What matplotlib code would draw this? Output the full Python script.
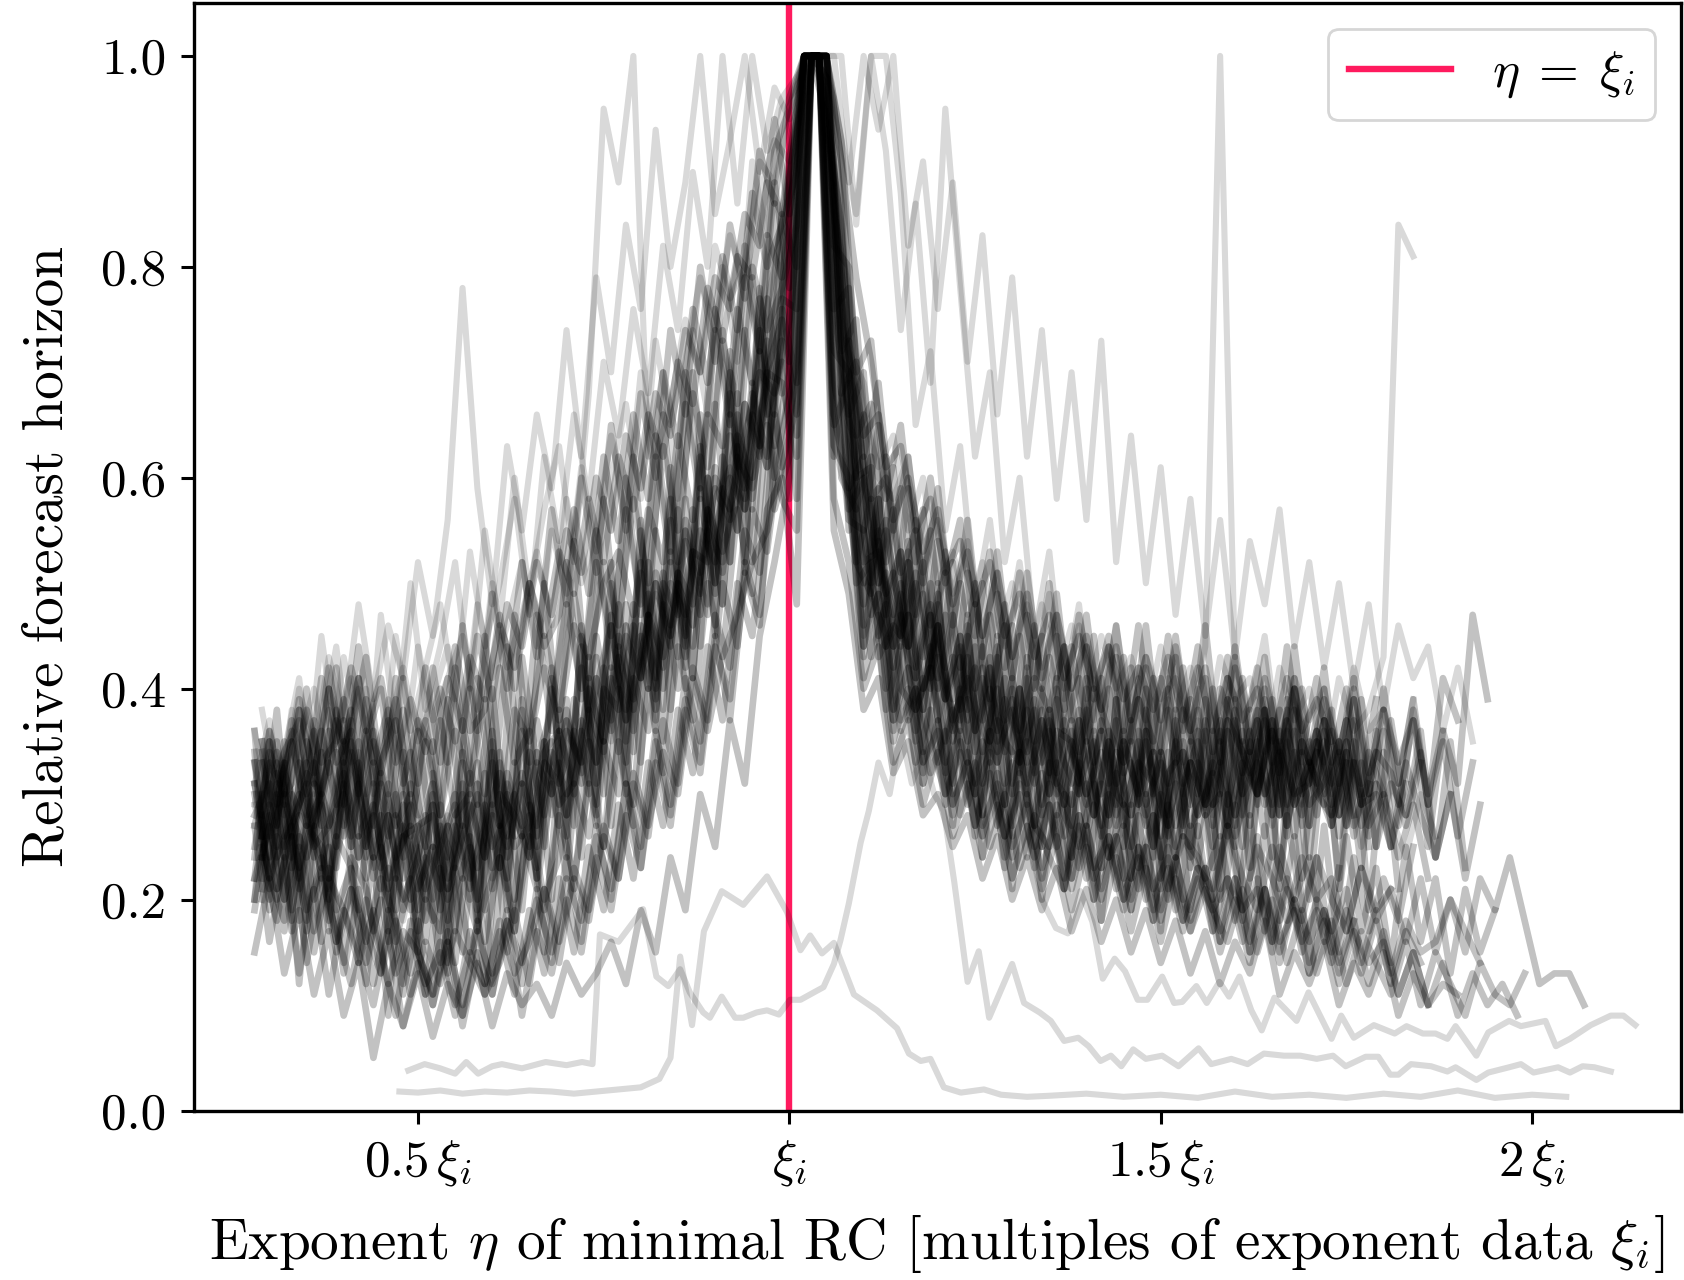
import numpy as np
import matplotlib
matplotlib.use("Agg")
import matplotlib.pyplot as plt

# relative forecast horizon in % of its maximum, one list per system,
# sampled over the exponent eta (multiples of the data exponent xi_i)
step = 0.02

a1 = [33, 21, 35, 22, 31, 20, 37, 26, 33, 19, 29, 17,
      29, 18, 31, 20, 34, 22, 36, 25, 40, 28, 44, 31,
      47, 35, 52, 39, 56, 44, 62, 50, 68, 57, 74, 66,
      84, 100, 100, 72, 70, 50, 58, 42, 52, 38, 49, 35,
      45, 31, 43, 30, 41, 28, 39, 27, 38, 26, 37, 25,
      36, 24, 35, 25, 37, 26, 38, 27, 39, 28, 38, 27,
      36, 26, 33]
a2 = [22, 31, 24, 35, 29, 23, 34, 27, 21, 30, 20, 28,
      19, 27, 21, 32, 23, 30, 24, 35, 27, 39, 31, 42,
      34, 48, 40, 51, 43, 57, 48, 62, 55, 69, 61, 77,
      76, 100, 96, 83, 60, 61, 47, 53, 41, 50, 39, 45,
      34, 43, 31, 40, 33, 38, 29, 37, 28, 36, 27, 35,
      25, 34, 27, 33, 25, 36, 28, 35, 29, 37, 27, 36,
      28, 34, 29, 30, 25]
a3 = [25, 34, 30, 21, 28, 36, 27, 33, 24, 31, 22, 27,
      28, 21, 30, 19, 33, 24, 31, 22, 35, 28, 42, 33,
      46, 37, 51, 40, 53, 45, 59, 49, 66, 58, 72, 63,
      70, 100, 100, 81, 59, 62, 49, 44, 53, 40, 46, 36,
      43, 34, 40, 31, 38, 29, 36, 35, 27, 37, 30, 28,
      36, 26, 33, 27, 30, 37, 28, 34, 26, 38, 29, 33]
a4 = [30, 24, 27, 31, 22, 34, 25, 36, 30, 22, 29, 18,
      26, 30, 20, 29, 23, 33, 25, 35, 29, 31, 40, 35,
      44, 36, 47, 43, 50, 46, 55, 52, 63, 58, 70, 69,
      62, 100, 100, 75, 68, 53, 56, 45, 50, 41, 47, 38,
      42, 35, 41, 32, 39, 30, 37, 31, 35, 28, 36, 29,
      34, 27, 35, 26, 33, 29, 36, 30, 37, 27, 35, 31,
      36, 27, 33, 25, 31, 28, 34, 24, 30, 22, 29]
a5 = [20, 29, 24, 33, 26, 22, 30, 35, 24, 28, 19, 26,
      31, 22, 28, 33, 21, 31, 26, 37, 30, 36, 33, 45,
      37, 48, 41, 50, 45, 54, 49, 61, 52, 67, 63, 75,
      88, 100, 100, 66, 59, 48, 54, 44, 47, 40, 46, 37,
      41, 36, 33, 39, 31, 37, 30, 35, 29, 36, 28, 33,
      27, 34, 25, 35, 28, 33, 27, 38, 30, 36, 26, 35,
      29, 34, 27, 31]
a6 = [28, 35, 26, 32, 30, 37, 33, 24, 32, 27, 30, 25,
      21, 28, 30, 24, 33, 25, 27, 34, 36, 30, 41, 35,
      45, 39, 49, 42, 51, 48, 57, 51, 62, 59, 66, 71,
      58, 100, 94, 84, 62, 57, 50, 45, 51, 43, 39, 45,
      36, 42, 34, 40, 32, 37, 33, 30, 36, 28, 35, 30,
      25, 32, 34, 28, 36, 27, 33, 30, 37, 29, 35, 31,
      27, 33]
a7 = [33, 26, 30, 23, 28, 33, 26, 31, 22, 28, 20, 24,
      29, 21, 26, 30, 23, 32, 27, 33, 30, 37, 32, 41,
      36, 45, 41, 51, 46, 56, 51, 59, 56, 67, 62, 79,
      91, 100, 100, 69, 62, 52, 53, 46, 44, 49, 37, 43,
      35, 42, 33, 40, 29, 38, 28, 36, 30, 34, 27, 37,
      29, 33, 24, 33, 28, 30, 25, 36, 29, 35, 30, 31,
      37, 28, 33, 27, 30, 24, 29, 22]
a8 = [24, 30, 35, 28, 23, 31, 36, 25, 31, 24, 27, 21,
      25, 29, 22, 27, 32, 26, 34, 28, 36, 31, 38, 34,
      43, 38, 47, 40, 50, 44, 57, 53, 58, 66, 61, 76,
      69, 100, 100, 73, 67, 55, 49, 53, 42, 48, 40, 36,
      44, 33, 39, 35, 31, 36, 29, 38, 31, 27, 35, 30,
      34, 26, 31, 35, 27, 37, 30, 33, 28, 36, 30, 34]
a9 = [31, 22, 26, 30, 25, 27, 32, 26, 29, 21, 26, 27,
      18, 27, 22, 31, 25, 28, 32, 26, 33, 38, 31, 40,
      46, 37, 43, 50, 44, 55, 47, 60, 57, 64, 70, 68,
      79, 100, 100, 80, 57, 60, 45, 51, 43, 38, 46, 37,
      33, 41, 34, 38, 30, 37, 31, 29, 35, 27, 34, 28,
      35, 29, 24, 33, 29, 35, 26, 31, 37, 28, 34, 29,
      31, 35, 26, 34, 30]
a10 = [26, 33, 28, 24, 30, 26, 35, 29, 23, 28, 25, 20,
       27, 23, 29, 24, 30, 28, 24, 33, 31, 36, 30, 40,
       38, 46, 40, 50, 47, 53, 52, 58, 64, 60, 70, 75,
       66, 100, 98, 77, 66, 49, 55, 47, 41, 47, 39, 43,
       36, 40, 35, 33, 38, 30, 36, 32, 28, 35, 29, 33,
       31, 27, 34, 28, 32, 26, 35, 30, 36, 27, 34, 30,
       28, 35, 27, 31, 25, 33, 28, 24, 30]

u1 = [24, 36, 29, 39, 31, 42, 33, 44, 35, 30, 41, 31,
      42, 33, 46, 36, 49, 40, 52, 43, 57, 48, 60, 51,
      65, 55, 68, 60, 74, 66, 80, 71, 84, 77, 91, 86,
      96, 100, 100, 82, 80, 62, 69, 55, 62, 50, 59, 46,
      56, 43, 53, 41, 51, 40, 49, 37, 47, 36, 46, 35,
      46, 34, 45, 35, 46, 33, 44, 34, 43, 32, 44, 33,
      42, 31, 41, 30, 40, 31, 39, 29, 41, 37]
u2 = [34, 27, 37, 30, 41, 33, 36, 43, 32, 39, 30, 42,
      33, 44, 36, 38, 47, 40, 50, 44, 47, 57, 49, 62,
      54, 66, 58, 70, 63, 76, 69, 81, 74, 87, 80, 84,
      89, 100, 100, 92, 70, 73, 58, 65, 52, 60, 50, 56,
      45, 53, 42, 51, 40, 50, 38, 47, 39, 45, 36, 46,
      35, 45, 36, 44, 34, 43, 35, 42, 33, 44, 34, 41,
      33, 40, 31, 39]
u3 = [27, 33, 30, 38, 32, 40, 35, 41, 33, 38, 31, 37,
      34, 41, 36, 45, 39, 48, 44, 52, 47, 55, 51, 60,
      55, 64, 59, 68, 64, 74, 70, 79, 76, 85, 82, 94,
      85, 100, 100, 86, 73, 64, 66, 56, 60, 53, 57, 48,
      53, 45, 51, 43, 49, 41, 47, 40, 45, 38, 44, 37,
      43, 37, 44, 36, 42, 35, 43, 34, 41, 35, 40, 33,
      39, 34, 40, 32, 38, 33, 37, 30, 36, 31, 47, 39]
u4 = [35, 29, 31, 38, 33, 35, 42, 36, 41, 33, 39, 34,
      40, 35, 43, 39, 46, 42, 50, 45, 53, 49, 58, 52,
      62, 57, 66, 62, 71, 67, 78, 73, 81, 79, 88, 85,
      93, 100, 100, 90, 79, 71, 61, 63, 55, 58, 51, 54,
      48, 52, 45, 49, 43, 47, 41, 45, 40, 44, 39, 42,
      38, 43, 37, 42, 36, 41, 37, 40, 35, 41, 36, 39,
      35]
u5 = [31, 37, 28, 35, 40, 32, 43, 36, 30, 39, 33, 44,
      37, 41, 45, 38, 50, 42, 47, 53, 46, 58, 50, 55,
      64, 56, 70, 62, 67, 75, 70, 82, 77, 80, 90, 88,
      94, 100, 100, 96, 72, 69, 60, 58, 62, 51, 56, 49,
      54, 45, 51, 43, 48, 42, 47, 40, 44, 38, 46, 37,
      43, 39, 41, 36, 44, 100, 42, 38, 45, 34, 41, 37,
      40, 33, 42, 36, 38, 31, 39]
u6 = [36, 29, 34, 41, 30, 38, 34, 40, 31, 36, 42, 35,
      39, 44, 36, 48, 41, 46, 52, 44, 55, 49, 61, 53,
      60, 67, 58, 73, 65, 71, 79, 74, 83, 78, 87, 92,
      90, 100, 100, 85, 78, 66, 61, 64, 55, 60, 50, 53,
      47, 52, 45, 50, 42, 48, 41, 46, 39, 45, 40, 43,
      37, 44, 38, 42, 35, 43, 39, 41, 34, 42, 37, 40,
      33, 41, 36, 38, 43, 84, 81]

l1 = [19, 28, 17, 25, 15, 23, 13, 21, 12, 19, 11, 18,
      10, 17, 9, 18, 11, 19, 12, 21, 14, 24, 16, 27,
      20, 31, 23, 35, 28, 39, 33, 45, 37, 51, 46, 66,
      58, 100, 100, 63, 60, 41, 47, 35, 40, 31, 37, 28,
      34, 26, 32, 24, 30, 22, 29, 21, 27, 20, 26, 19,
      25, 18, 24, 17, 23, 16, 22, 15, 21, 14, 20, 13,
      19, 13, 18, 12, 17, 11, 15, 10, 14, 9, 13, 10,
      12, 9]
l2 = [28, 21, 26, 18, 24, 16, 21, 14, 20, 13, 17, 11,
      16, 10, 15, 12, 17, 11, 19, 13, 22, 15, 25, 19,
      29, 22, 33, 27, 38, 32, 44, 37, 50, 45, 57, 60,
      48, 100, 100, 78, 50, 52, 38, 44, 33, 38, 29, 35,
      27, 33, 24, 31, 23, 29, 21, 28, 22, 26, 20, 25,
      19, 25, 18, 23, 19, 22, 16, 22, 15, 21, 16, 19,
      14, 19, 13, 18, 12, 17, 14]
l3 = [22, 27, 20, 26, 17, 22, 19, 14, 19, 12, 17, 15,
      11, 16, 10, 17, 12, 18, 14, 20, 15, 22, 18, 26,
      21, 31, 25, 36, 29, 41, 35, 47, 42, 55, 51, 68,
      75, 100, 100, 66, 58, 44, 49, 37, 42, 33, 36, 29,
      33, 27, 31, 25, 29, 23, 28, 22, 27, 21, 26, 20,
      25, 19, 24, 18, 23, 17, 22, 16, 21, 15, 20, 16,
      19, 14, 18]
l4 = [25, 20, 27, 19, 23, 15, 21, 17, 13, 18, 11, 16,
      12, 17, 14, 11, 18, 13, 16, 21, 14, 23, 19, 26,
      22, 32, 27, 34, 30, 41, 36, 43, 47, 52, 55, 61,
      67, 100, 97, 74, 52, 49, 45, 36, 40, 35, 30, 34,
      27, 32, 26, 30, 24, 29, 22, 28, 23, 26, 20, 25,
      21, 24, 18, 23, 17, 22, 19, 21, 16, 22, 15, 20,
      17, 21, 14, 19, 13, 18, 15, 16, 20, 15, 22, 19,
      24, 18, 12, 13, 13, 10]
l5 = [15, 22, 13, 19, 11, 17, 9, 14, 5, 12, 8, 13,
      7, 12, 9, 14, 8, 13, 10, 12, 9, 14, 11, 13,
      16, 12, 19, 15, 24, 19, 30, 25, 37, 31, 45, 52,
      60, 100, 100, 55, 49, 38, 41, 32, 35, 28, 30, 25,
      28, 22, 26, 20, 24, 19, 23, 17, 21, 16, 20, 15,
      19, 14, 18, 13, 17, 12, 16, 13, 18, 11, 15, 12,
      16, 10, 14, 11, 15, 9, 13, 10, 12, 11]

m1 = [34, 19, 29, 12, 27, 17, 31, 14, 24, 9, 26, 15,
      11, 27, 15, 29, 13, 30, 19, 34, 20, 39, 24, 43,
      27, 46, 33, 55, 38, 58, 44, 67, 52, 74, 63, 86,
      71, 100, 100, 65, 69, 44, 55, 36, 47, 31, 43, 27,
      39, 24, 37, 21, 35, 20, 33, 22, 31, 18, 32, 19,
      30, 17, 31, 19, 28, 16, 29, 15, 27, 18, 26, 14,
      27, 15, 24, 17, 22, 18, 25]
m2 = [21, 30, 18, 33, 16, 26, 23, 12, 25, 16, 22, 11,
      23, 14, 26, 12, 27, 17, 29, 15, 33, 21, 35, 25,
      40, 29, 47, 35, 51, 41, 60, 48, 66, 57, 77, 68,
      82, 100, 100, 80, 52, 58, 40, 49, 35, 44, 30, 40,
      26, 36, 23, 34, 25, 31, 21, 33, 20, 30, 22, 28,
      18, 29, 20, 27, 17, 30, 18, 26, 16, 28, 19, 24,
      15, 26, 17, 23, 14, 25, 16, 22, 13, 21, 15, 19]
m3 = [30, 22, 18, 28, 20, 25, 14, 26, 17, 23, 12, 21,
      25, 13, 22, 17, 28, 15, 26, 21, 31, 22, 36, 27,
      41, 30, 45, 38, 52, 43, 58, 50, 64, 59, 72, 80,
      88, 100, 100, 70, 56, 55, 43, 46, 37, 41, 33, 38,
      29, 35, 27, 33, 24, 32, 25, 30, 22, 31, 21, 29,
      20, 30, 19, 27, 22, 26, 18, 28, 17, 25, 20, 24,
      16, 23]
m4 = [24, 32, 19, 27, 25, 16, 24, 21, 13, 22, 19, 24,
      14, 21, 25, 16, 24, 18, 28, 20, 24, 31, 26, 35,
      30, 41, 36, 48, 40, 53, 47, 59, 55, 68, 62, 73,
      64, 100, 100, 68, 63, 47, 51, 40, 38, 42, 32, 36,
      30, 34, 26, 32, 27, 25, 30, 23, 29, 24, 27, 21,
      28, 20, 26, 23, 21, 27, 19, 25, 22, 18, 24, 20,
      22, 17, 23, 19, 21]
m5 = [20, 35, 26, 38, 24, 40, 29, 41, 27, 37, 24, 36,
      25, 39, 27, 41, 29, 44, 31, 47, 36, 52, 39, 55,
      42, 60, 47, 64, 53, 70, 59, 76, 66, 82, 72, 91,
      95, 100, 100, 76, 78, 55, 65, 47, 59, 43, 54, 39,
      51, 37, 49, 34, 47, 33, 45, 31, 44, 30, 43, 29,
      42, 28, 43, 29, 41, 30, 42, 28, 40, 29, 41, 27,
      40, 28, 39, 26, 38, 29, 37, 25, 36]
m6 = [33, 25, 36, 27, 30, 38, 26, 35, 40, 28, 34, 25,
      37, 28, 40, 30, 42, 33, 36, 45, 38, 49, 41, 52,
      46, 58, 50, 63, 55, 68, 61, 73, 67, 80, 74, 78,
      84, 100, 100, 90, 64, 67, 52, 59, 47, 55, 42, 50,
      40, 47, 37, 45, 35, 43, 36, 41, 33, 40, 32, 39,
      30, 40, 31, 38, 29, 41, 32, 37, 28, 39, 31, 36,
      29, 37, 30]
m7 = [31, 24, 34, 37, 27, 32, 39, 30, 36, 26, 38, 28,
      35, 24, 37, 29, 40, 26, 43, 33, 38, 48, 40, 52,
      45, 57, 48, 62, 52, 67, 58, 74, 65, 79, 72, 88,
      78, 100, 100, 88, 66, 70, 50, 61, 44, 57, 41, 52,
      38, 50, 36, 46, 34, 45, 32, 44, 35, 41, 31, 42,
      30, 41, 33, 39, 29, 40, 36, 32, 38, 28, 40, 31,
      37, 28, 39, 30, 36, 27, 38, 29, 35, 26, 33]
m8 = [26, 34, 30, 27, 36, 29, 38, 25, 33, 37, 27, 35,
      28, 36, 31, 39, 27, 38, 35, 42, 37, 46, 43, 50,
      53, 47, 57, 52, 64, 56, 66, 63, 76, 69, 83, 79,
      91, 100, 100, 72, 75, 58, 60, 51, 55, 46, 51, 42,
      48, 39, 46, 36, 41, 38, 44, 34, 40, 36, 33, 39,
      35, 31, 38, 33, 29, 37, 34, 30, 36, 32, 28, 35,
      31, 37, 29, 34, 32, 27, 33]
m9 = [22, 35, 20, 31, 36, 18, 33, 24, 35, 16, 30, 19,
      32, 16, 34, 18, 35, 21, 38, 23, 41, 26, 45, 29,
      50, 31, 55, 36, 58, 42, 63, 46, 70, 52, 77, 60,
      90, 100, 100, 62, 73, 46, 59, 38, 54, 32, 50, 31,
      47, 28, 45, 26, 43, 25, 41, 24, 40, 23, 39, 22,
      38, 22, 37, 24, 36, 21, 39, 23, 38, 22, 40, 24,
      37, 21, 35, 25]
m10 = [35, 21, 30, 17, 34, 25, 37, 22, 28, 19, 31, 16,
       29, 17, 32, 19, 34, 20, 36, 25, 38, 27, 43, 30,
       48, 34, 52, 38, 57, 41, 60, 48, 68, 52, 73, 61,
       70, 100, 100, 86, 57, 62, 44, 50, 36, 47, 33, 44,
       30, 42, 29, 40, 27, 38, 26, 37, 28, 35, 25, 36,
       24, 38, 26, 36, 23, 39, 25, 37, 24, 38, 22, 35,
       27, 34, 23, 36, 25, 31]

n1 = [27, 16, 24, 13, 21, 11, 19, 15, 10, 17, 8, 14,
      10, 16, 8, 15, 11, 18, 9, 17, 13, 20, 15, 24,
      19, 28, 23, 33, 27, 38, 32, 44, 39, 52, 47, 61,
      68, 100, 100, 58, 52, 40, 44, 33, 37, 29, 34, 26,
      31, 24, 29, 22, 27, 21, 26, 19, 25, 18, 24, 17,
      23, 16, 22, 17, 21, 15, 20, 14, 21, 16, 19, 13,
      18, 12, 17, 14, 16, 11, 15, 10]
n2 = [24, 18, 26, 14, 22, 17, 12, 20, 15, 9, 18, 12,
      15, 9, 17, 11, 14, 19, 12, 21, 16, 22, 18, 27,
      22, 31, 26, 37, 31, 42, 37, 50, 44, 57, 53, 64,
      71, 100, 98, 60, 57, 43, 48, 37, 40, 32, 36, 28,
      33, 25, 30, 23, 28, 24, 21, 27, 20, 25, 19, 24,
      18, 23, 17, 22, 19, 16, 21, 15, 20, 14, 19, 13,
      18, 12, 17, 14, 11, 16, 10, 15, 12, 9, 14, 11,
      10, 13]
n3 = [36, 20, 33, 18, 37, 22, 35, 19, 31, 17, 34, 15,
      30, 14, 33, 17, 36, 19, 39, 22, 42, 24, 46, 28,
      52, 33, 56, 37, 61, 40, 66, 45, 72, 51, 78, 57,
      62, 100, 100, 76, 66, 43, 58, 37, 52, 34, 48, 30,
      46, 28, 44, 27, 42, 25, 40, 24, 41, 23, 39, 22,
      40, 21, 38, 23, 39, 20, 37, 22, 38, 21, 36, 20,
      35, 22, 37, 19, 34, 21]
n4 = [26, 38, 23, 40, 27, 42, 25, 39, 24, 41, 26, 37,
      28, 42, 30, 45, 27, 47, 33, 50, 36, 54, 38, 58,
      44, 62, 47, 66, 52, 70, 56, 74, 61, 79, 66, 85,
      80, 100, 100, 68, 71, 50, 62, 44, 56, 40, 53, 37,
      50, 35, 48, 33, 46, 32, 44, 30, 45, 31, 43, 29,
      41, 28, 42, 30, 40, 27, 41, 29, 39, 26, 40, 28,
      38, 27, 39, 25, 37, 28, 36, 24, 35, 23]
n5 = [28, 31, 25, 29, 33, 27, 30, 24, 28, 22, 27, 21,
      25, 20, 27, 23, 29, 25, 31, 27, 34, 30, 37, 33,
      42, 38, 46, 41, 50, 47, 55, 52, 60, 57, 66, 71,
      85, 100, 100, 88, 55, 66, 50, 57, 44, 52, 40, 47,
      37, 44, 35, 41, 33, 40, 31, 37, 30, 36, 29, 35,
      28, 34, 27, 33, 29, 36, 28, 35, 30, 34, 29, 33,
      30, 35, 28]
n6 = [20, 26, 17, 24, 29, 19, 23, 16, 22, 18, 13, 20,
      17, 23, 15, 20, 24, 17, 26, 19, 28, 22, 31, 25,
      35, 27, 40, 32, 44, 37, 50, 43, 57, 49, 65, 58,
      55, 100, 100, 72, 60, 50, 44, 47, 38, 42, 35, 39,
      31, 36, 29, 34, 27, 33, 28, 25, 31, 24, 29, 23,
      28, 21, 26, 24, 20, 27, 22, 19, 25, 21, 18, 24,
      20, 17, 23, 18, 21, 16, 22, 15, 20, 17, 14]

# sparse systems that reach the maximum several times
h1 = [33, 27, 38, 31, 45, 35, 41, 30, 47, 36, 50, 38,
      44, 52, 40, 55, 46, 60, 49, 57, 63, 52, 68, 95,
      88, 100, 62, 70, 58, 74, 66, 80, 71, 90, 83, 95,
      97, 100, 100, 100, 84, 100, 91, 74, 86, 69, 95, 78,
      62, 70, 52, 60, 45, 53, 40, 48, 36, 44, 33, 41,
      31, 39, 30, 37, 28, 36, 30, 38, 27, 35, 29, 34,
      27, 33, 25, 31, 28, 24, 30, 26]
h2 = [29, 36, 31, 40, 34, 43, 37, 48, 39, 46, 41, 52,
      45, 56, 78, 59, 48, 63, 55, 66, 59, 74, 62, 79,
      70, 84, 76, 93, 80, 88, 100, 85, 92, 100, 89, 97,
      94, 100, 100, 100, 88, 100, 93, 100, 82, 90, 76, 88,
      71, 83, 66, 79, 62, 74, 58, 70, 56, 73, 52, 64,
      50, 61, 47, 58, 45, 56, 43, 54, 48, 57, 44, 52,
      42, 50, 40, 48, 38, 46, 41, 44, 36, 42, 35]
h3 = [38, 30, 35, 28, 36, 44, 33, 40, 31, 45, 36, 42,
      48, 39, 53, 44, 50, 58, 47, 62, 54, 66, 58, 71,
      64, 76, 68, 82, 74, 89, 80, 100, 86, 100, 91, 96,
      98, 100, 100, 92, 85, 100, 100, 87, 65, 72, 55, 63,
      48, 56, 44, 52, 41, 49, 39, 46, 37, 44, 35, 42,
      34, 41, 33, 40, 32, 39, 34, 38, 31, 37, 33, 36,
      30, 35, 29, 34]

# three systems with irregular eta sampling
o1_eta = [0.475, 0.50, 0.53, 0.56, 0.59, 0.62, 0.65, 0.68, 0.71, 0.74,
          0.77, 0.80, 0.825, 0.840, 0.853, 0.869, 0.885, 0.909, 0.938, 0.970,
          0.997, 1.015, 1.028, 1.044, 1.060, 1.087, 1.118, 1.145, 1.161, 1.177,
          1.190, 1.208, 1.231, 1.262, 1.285, 1.32, 1.35, 1.40, 1.45, 1.50,
          1.55, 1.60, 1.65, 1.70, 1.75, 1.80, 1.85, 1.90, 1.95, 2.00,
          2.046]
o1 = [1.8, 1.7, 1.9, 1.6, 1.8, 1.7, 1.9, 1.8, 1.6, 1.8,
      2.0, 2.2, 3.0, 5.0, 14.6, 8.1, 17.0, 20.8, 19.5, 22.2,
      18.8, 15.2, 16.6, 14.9, 15.9, 11.0, 9.5, 7.8, 5.4, 4.7,
      4.9, 2.2, 1.7, 2.0, 1.5, 1.3, 1.4, 1.6, 1.3, 1.5,
      1.2, 1.8, 1.3, 1.5, 1.2, 1.6, 1.3, 1.9, 1.2, 1.5,
      1.3]

o2_eta = [0.487, 0.509, 0.53, 0.55, 0.565, 0.581, 0.60, 0.613, 0.64, 0.672,
          0.70, 0.721, 0.735, 0.745, 0.77, 0.803, 0.821, 0.837, 0.853, 0.866,
          0.884, 0.893, 0.909, 0.927, 0.938, 0.956, 0.970, 0.986, 1.001, 1.015,
          1.033, 1.046, 1.060, 1.069, 1.080, 1.096, 1.107, 1.120, 1.135, 1.150,
          1.165, 1.180, 1.195, 1.208, 1.222, 1.240, 1.255, 1.269, 1.300, 1.316,
          1.337, 1.352, 1.370, 1.389, 1.403, 1.419, 1.433, 1.447, 1.463, 1.480,
          1.502, 1.524, 1.551, 1.568, 1.595, 1.617, 1.639, 1.666, 1.688, 1.710,
          1.732, 1.749, 1.776, 1.793, 1.809, 1.820, 1.837, 1.864, 1.886, 1.897,
          1.925, 1.941, 1.969, 1.985, 2.002, 2.035, 2.051, 2.068, 2.084, 2.106]
o2 = [3.8, 4.4, 4.0, 3.5, 4.6, 3.5, 4.2, 4.4, 4.0, 4.6,
      4.3, 4.6, 4.4, 16.7, 16.0, 19.1, 12.7, 11.8, 13.4, 11.2,
      9.3, 8.8, 10.8, 8.8, 8.8, 9.3, 9.5, 9.1, 10.5, 10.5,
      11.2, 11.7, 13.9, 16.2, 19.6, 25.4, 28.4, 33.0, 30.0, 36.0,
      31.0, 34.0, 30.0, 28.4, 21.7, 12.2, 15.1, 8.8, 13.9, 10.2,
      9.3, 8.5, 6.6, 6.9, 6.1, 4.7, 5.2, 4.2, 5.8, 4.9,
      5.2, 4.2, 5.9, 4.4, 4.9, 4.4, 5.4, 5.2, 5.2, 4.9,
      5.2, 4.2, 5.1, 5.1, 3.4, 3.4, 4.4, 4.2, 3.7, 4.1,
      2.9, 3.6, 4.1, 4.4, 3.6, 4.1, 3.6, 4.2, 4.1, 3.7]

# regular part (from 0.28) and irregular tail
o3 = [29, 22, 33, 25, 30, 21, 27, 34, 23, 30, 18, 25,
      20, 28, 24, 31, 22, 29, 26, 34, 28, 37, 33, 41,
      35, 46, 41, 49, 45, 55, 50, 58, 61, 57, 69, 74,
      80, 100, 100, 63, 58, 45, 49, 38, 42, 33, 37, 29,
      33, 26, 30, 22, 27, 20]
o3_tail_eta = [1.359, 1.375, 1.392, 1.408, 1.422, 1.438, 1.452, 1.469, 1.482, 1.502,
               1.518, 1.529, 1.548, 1.562, 1.579, 1.592, 1.606, 1.622, 1.636, 1.653,
               1.683, 1.699, 1.730, 1.743, 1.760, 1.787, 1.815, 1.831, 1.853, 1.870,
               1.886, 1.897, 1.925, 1.941, 1.969, 1.985, 2.018, 2.032, 2.051, 2.079,
               2.106, 2.123, 2.139]
o3_tail = [17.3, 16.8, 20.8, 17.9, 12.5, 14.4, 13.2, 10.5, 10.5, 12.7,
           10.2, 10.3, 11.8, 10.2, 12.2, 10.8, 12.7, 9.5, 7.6, 10.7,
           8.5, 11.2, 6.8, 9.0, 6.9, 8.1, 7.3, 8.0, 7.3, 7.3,
           6.8, 8.0, 5.2, 7.4, 8.5, 8.0, 8.5, 6.1, 6.8, 8.1,
           9.0, 9.0, 8.1]

# first eta value of each regularly sampled system
regular = [(0.28, a1), (0.29, a2), (0.28, a3), (0.29, a4), (0.28, a5),
           (0.29, a6), (0.28, a7), (0.29, a8), (0.28, a9), (0.29, a10),
           (0.28, u1), (0.29, u2), (0.28, u3), (0.29, u4),
           (0.28, l1), (0.29, l2), (0.28, l3), (0.29, l4),
           (0.28, l5), (0.28, m1), (0.29, m2), (0.28, m3), (0.29, m4),
           (0.28, m5), (0.29, m6), (0.28, m7), (0.29, m8), (0.28, m9),
           (0.29, m10), (0.28, n1), (0.29, n2), (0.28, n3), (0.29, n4),
           (0.28, n5), (0.29, n6)]
sparse = [(0.29, h1), (0.28, h2), (0.29, h3), (0.28, u5), (0.28, u6)]

plt.rcParams.update({
    "font.family": "serif",
    "font.serif": ["cmr10"],
    "mathtext.fontset": "cm",
    "axes.formatter.use_mathtext": True,
    "axes.unicode_minus": False,
    "font.size": 18.4,
    "axes.labelsize": 20.6,
    "axes.linewidth": 1.2,
})

fig, ax = plt.subplots(figsize=(8.42, 6.4), dpi=200)
fig.subplots_adjust(left=0.115, right=0.998, bottom=0.1324, top=0.9975)

ax.axvline(1.0, color="#ff1a5e", lw=2.3, label=r"$\eta \;=\; \xi_i$", zorder=1)

dense = dict(color="black", alpha=0.24, lw=2.4, zorder=2)
light = dict(color="black", alpha=0.15, lw=2.2, zorder=2)
for x0, y in regular:
    x = x0 + step * np.arange(len(y))
    ax.plot(x, np.array(y) / 100, **dense)
for x0, y in sparse:
    x = x0 + step * np.arange(len(y))
    ax.plot(x, np.array(y) / 100, **light)

ax.plot(o1_eta, np.array(o1) / 100, **light)
ax.plot(o2_eta, np.array(o2) / 100, **light)
x3 = np.concatenate([0.28 + step * np.arange(len(o3)), o3_tail_eta])
ax.plot(x3, np.concatenate([o3, o3_tail]) / 100, **light)

ax.set_xlim(0.198, 2.2)
ax.set_ylim(0, 1.05)
ax.set_xticks([0.5, 1.0, 1.5, 2.0])
ax.set_xticklabels([r"$0.5\,\xi_i$", r"$\xi_i$", r"$1.5\,\xi_i$", r"$2\,\xi_i$"])
ax.set_yticks([0, 0.2, 0.4, 0.6, 0.8, 1.0])
ax.set_yticklabels(["0.0", "0.2", "0.4", "0.6", "0.8", "1.0"])
ax.tick_params(length=4.8, width=1.1, pad=5)

ax.set_xlabel(r"Exponent $\eta$ of minimal RC [multiples of exponent data $\xi_i$]", labelpad=9)
ax.set_ylabel("Relative forecast horizon", labelpad=10)
ax.legend(loc="upper right", handlelength=2.0)

fig.savefig("out.png", dpi=200)
